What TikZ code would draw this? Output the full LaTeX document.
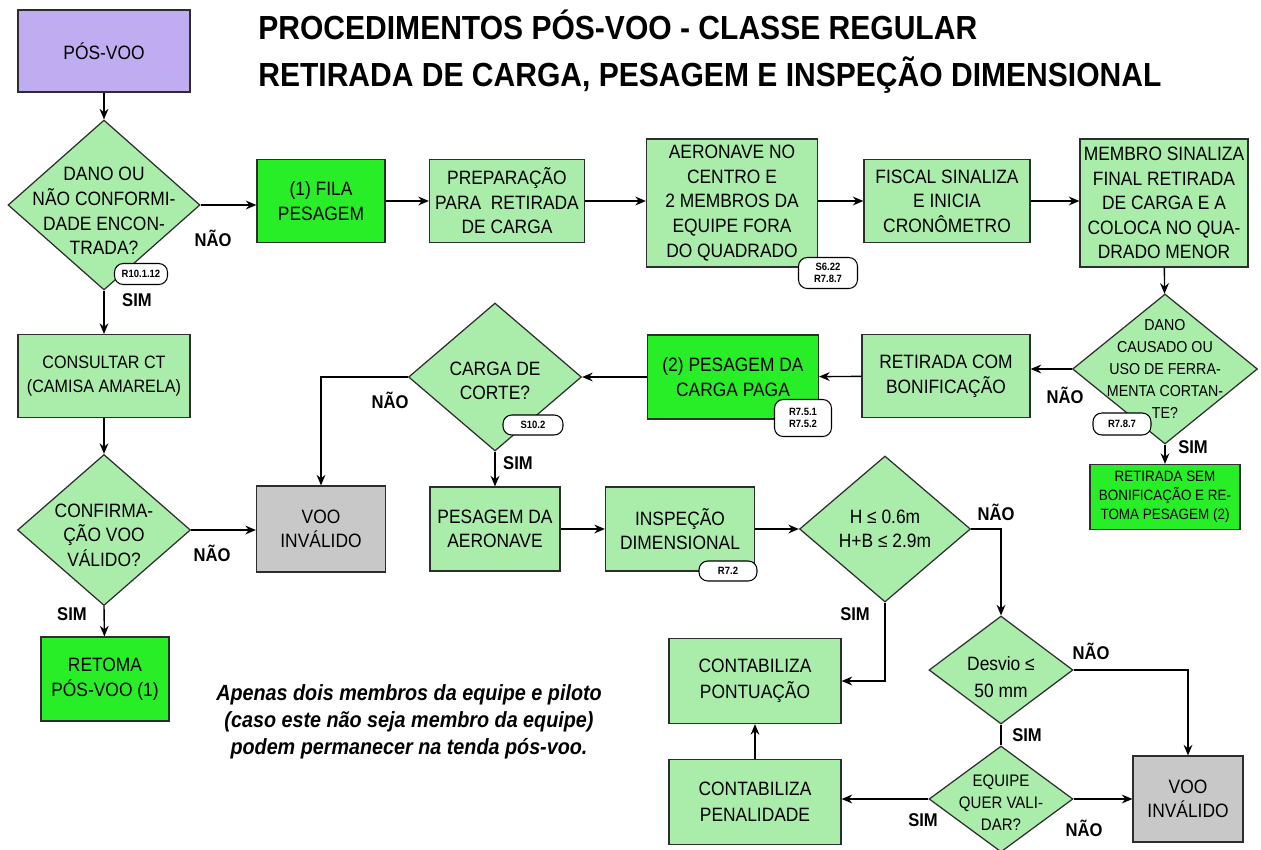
\documentclass[tikz,border=0pt]{standalone}
\usepackage{fontspec}
\setmainfont{Liberation Sans}[FakeStretch=0.9]
\usepackage{xcolor}
\usetikzlibrary{shapes.geometric,arrows.meta,positioning}

\definecolor{lgreen}{RGB}{170,236,170}
\definecolor{hgreen}{RGB}{40,238,40}
\definecolor{lilac}{RGB}{192,172,240}
\definecolor{vgray}{RGB}{200,200,200}
\definecolor{edge}{RGB}{45,45,45}

\begin{document}
\begin{tikzpicture}[
    x=0.02cm, y=-0.02cm,
    font=\fontsize{11}{14}\selectfont,
    box/.style={rectangle, draw=edge, line width=0.7pt, fill=lgreen, align=center, inner sep=1pt},
    keybox/.style={box, fill=hgreen},
    badbox/.style={box, fill=vgray},
    begbox/.style={box, fill=lilac},
    dia/.style={diamond, draw=edge, line width=0.7pt, fill=lgreen, inner sep=0pt},
    dtext/.style={align=center, inner sep=0pt},
    sz/.style 2 args={minimum width=#1*0.02cm, minimum height=#2*0.02cm},
    reftag/.style={draw=black, line width=0.6pt, fill=white, rounded corners=5pt, align=center, inner sep=1pt, font=\fontsize{6}{7}\selectfont\bfseries},
    answer/.style={inner sep=0pt, font=\fontsize{10.5}{12}\selectfont\bfseries},
    heading/.style={anchor=base west, inner sep=0pt, font=\fontsize{19}{22}\selectfont\bfseries},
    arrow/.style={-{Stealth[length=6pt,width=5pt]}, line width=0.8pt},
    link/.style={line width=0.8pt}
]
    \useasboundingbox (0,0) rectangle (1261,849);

    \node[heading] (title1) at (258,39) {PROCEDIMENTOS PÓS-VOO - CLASSE REGULAR};
    \node[heading] (title2) at (258,86) {RETIRADA DE CARGA, PESAGEM E INSPEÇÃO DIMENSIONAL};

    % upper row
    \node[begbox, sz={172}{82}] (posvoo) at (104,51) {PÓS-VOO};
    \node[dia, sz={192}{170}, label={[dtext, yshift=-0.12cm]center:DANO OU\\NÃO CONFORMI-\\DADE ENCON-\\TRADA?}] (dano) at (104,205) {};
    \node[keybox, sz={128}{83}] (fila) at (321,201) {(1) FILA\\PESAGEM};
    \node[box, sz={155}{83}] (prep) at (507,201) {PREPARAÇÃO\\PARA\ \ RETIRADA\\DE CARGA};
    \node[box, sz={171}{128}] (aero) at (732,203) {AERONAVE NO\\CENTRO E\\2 MEMBROS DA\\EQUIPE FORA\\DO QUADRADO};
    \node[box, sz={166}{83}] (fiscal) at (947,201) {FISCAL SINALIZA\\E INICIA\\CRONÔMETRO};
    \node[box, sz={168}{128}] (membro) at (1164,203) {MEMBRO SINALIZA\\FINAL RETIRADA\\DE CARGA E A\\COLOCA NO QUA-\\DRADO MENOR};

    % middle row
    \node[dia, sz={185}{150}, label={[dtext, font=\fontsize{9}{12.5}\selectfont]center:DANO\\CAUSADO OU\\USO DE FERRA-\\MENTA CORTAN-\\TE?}] (cortante) at (1165,369) {};
    \node[keybox, sz={150}{65}, font=\fontsize{8.5}{10.8}\selectfont] (semb) at (1165,497) {RETIRADA SEM\\BONIFICAÇÃO E RE-\\TOMA PESAGEM (2)};
    \node[box, sz={168}{83}] (comb) at (946,376) {RETIRADA COM\\BONIFICAÇÃO};
    \node[keybox, sz={171}{84}] (carga) at (733,377) {(2) PESAGEM DA\\CARGA PAGA};
    \node[dia, sz={173}{148}, label={[dtext, yshift=-0.08cm]center:CARGA DE\\CORTE?}] (corte) at (495,377) {};
    \node[box, sz={172}{83}, font=\fontsize{10.2}{14}\selectfont] (consulta) at (104,376) {CONSULTAR CT\\(CAMISA AMARELA)};

    % lower rows
    \node[dia, sz={173}{151}, label={[dtext, yshift=-0.1cm]center:CONFIRMA-\\ÇÃO VOO\\VÁLIDO?}] (confirma) at (104,530) {};
    \node[badbox, sz={129}{86}] (invalido) at (321,529) {VOO\\INVÁLIDO};
    \node[keybox, sz={128}{84}] (retoma) at (105,679) {RETOMA\\PÓS-VOO (1)};
    \node[box, sz={130}{84}] (pesaero) at (495,529) {PESAGEM DA\\AERONAVE};
    \node[box, sz={149}{84}] (inspecao) at (680,529) {INSPEÇÃO\\DIMENSIONAL};
    \node[dia, sz={171}{146}, label={[dtext]center:H ≤ 0.6m\\H+B ≤ 2.9m}] (medida) at (885,529) {};
    \node[box, sz={172}{85}, font=\fontsize{11}{15}\selectfont] (pontos) at (755,681) {CONTABILIZA\\PONTUAÇÃO};
    \node[box, sz={172}{85}, font=\fontsize{11}{15}\selectfont] (penal) at (755,802) {CONTABILIZA\\PENALIDADE};
    \node[dia, sz={144}{108}, label={[dtext, yshift=-0.14cm, font=\fontsize{11}{15.3}\selectfont]center:Desvio ≤\\50 mm}] (desvio) at (1001,670) {};
    \node[dia, sz={144}{106}, label={[dtext, yshift=-0.08cm, font=\fontsize{9.5}{12.5}\selectfont]center:EQUIPE\\QUER VALI-\\DAR?}] (valida) at (1001,799) {};
    \node[badbox, sz={110}{86}] (invalido2) at (1188,799) {VOO\\INVÁLIDO};

    \node[align=center, font=\fontsize{12.5}{15.3}\selectfont\bfseries\itshape] (nota) at (409,722) {Apenas dois membros da equipe e piloto\\(caso este não seja membro da equipe)\\podem permanecer na tenda pós-voo.};

    \draw[arrow] (posvoo) -- (dano);
    \draw[arrow] (dano.east) -- (dano.east -| fila.west);
    \draw[arrow] (fila) -- (prep);
    \draw[arrow] (prep) -- (prep -| aero.west);
    \draw[arrow] (aero.east |- fiscal) -- (fiscal);
    \draw[arrow] (fiscal) -- (fiscal -| membro.west);
    \draw[arrow] (membro) -- (cortante);
    \draw[arrow] (cortante.west) -- (cortante.west -| comb.east);
    \draw[arrow] (cortante.south) -- (semb);
    \draw[arrow] (comb) -- (carga);
    \draw[arrow] (carga) -- (corte.east);
    \draw[arrow] (corte.west) -| (invalido);
    \draw[arrow] (corte.south) -- (pesaero);
    \draw[arrow] (dano.south) -- (consulta);
    \draw[arrow] (consulta) -- (confirma);
    \draw[arrow] (confirma.east) -- (confirma.east -| invalido.west);
    \draw[arrow] (confirma.south) -- (retoma);
    \draw[arrow] (pesaero) -- (inspecao);
    \draw[arrow] (inspecao) -- (medida.west);
    \draw[arrow] (medida.east) -| (desvio.north);
    \draw[arrow] (medida.south) |- (pontos);
    \draw[arrow] (desvio.east) -| (invalido2);
    \draw[link] (desvio.south) -- (valida.north);
    \draw[arrow] (valida.west) -- (valida.west -| penal.east);
    \draw[arrow] (valida.east) -- (invalido2);
    \draw[arrow] (penal) -- (pontos);

    \node[answer] (nao1) at (213,238) {NÃO};
    \node[answer] (sim1) at (137,300) {SIM};
    \node[answer] (nao2) at (1065,395) {NÃO};
    \node[answer] (sim2) at (1193,447) {SIM};
    \node[answer] (nao3) at (390,400) {NÃO};
    \node[answer] (sim3) at (518,463) {SIM};
    \node[answer] (nao4) at (212,553) {NÃO};
    \node[answer] (sim4) at (72,614) {SIM};
    \node[answer] (nao5) at (996,512) {NÃO};
    \node[answer] (sim5) at (855,614) {SIM};
    \node[answer] (nao6) at (1091,651) {NÃO};
    \node[answer] (sim6) at (1027,735) {SIM};
    \node[answer] (sim7) at (923,820) {SIM};
    \node[answer] (nao7) at (1084,828) {NÃO};

    \node[reftag, sz={53}{21}] (r1) at (141,274) {R10.1.12};
    \node[reftag, sz={59}{31}] (r2) at (828,273) {S6.22\\R7.8.7};
    \node[reftag, sz={57}{37}] (r3) at (803,418) {R7.5.1\\R7.5.2};
    \node[reftag, sz={60}{20}] (r4) at (533,425) {S10.2};
    \node[reftag, sz={58}{20}] (r5) at (728,571) {R7.2};
    \node[reftag, sz={58}{22}] (r6) at (1122,424) {R7.8.7};
\end{tikzpicture}
\end{document}
